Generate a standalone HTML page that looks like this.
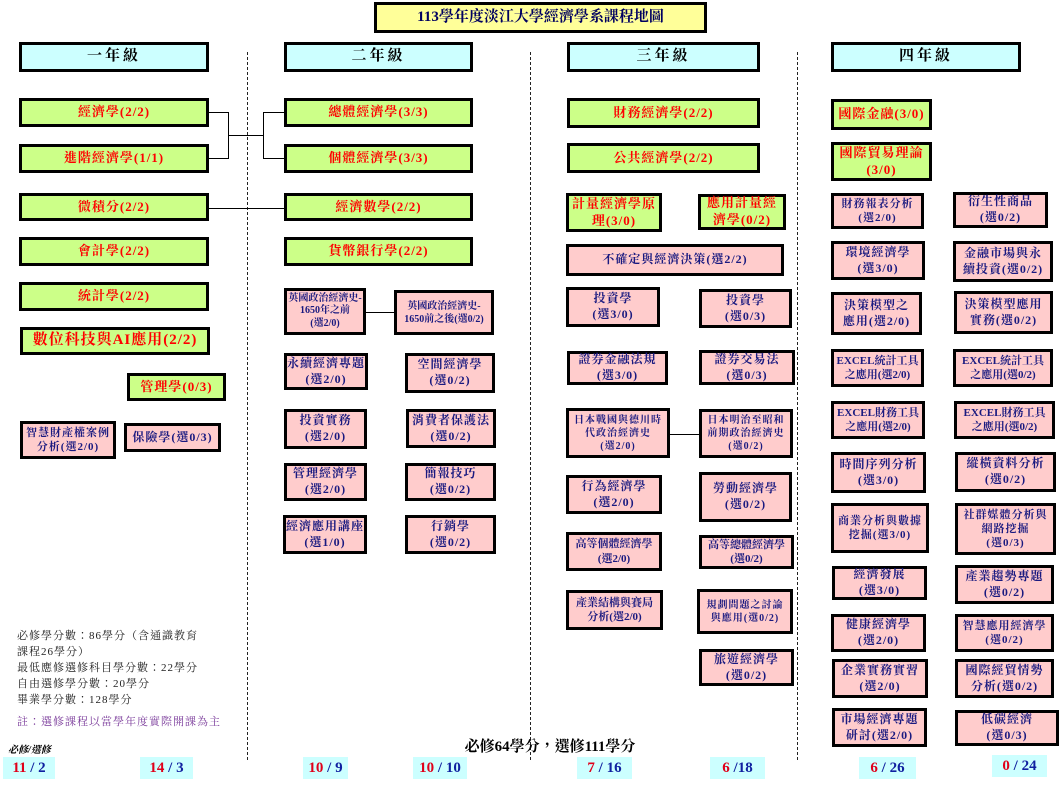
<!DOCTYPE html>
<html><head><meta charset="utf-8">
<style>
body{margin:0;width:1061px;height:786px;background:#fff;position:relative;overflow:hidden;font-family:"Liberation Serif","Noto Serif CJK TC","Noto Serif CJK SC",serif;}
.b{position:absolute;box-sizing:border-box;border:3px solid #000;display:flex;align-items:center;justify-content:center;text-align:center;font-weight:bold;line-height:1.3;letter-spacing:1px;}
.g{background:#ccff88;color:#ff0000;font-size:13px;}
.p{background:#ffcccc;color:#1a1a80;font-size:12px;}
.h{background:#ccffff;color:#000;font-size:15px;letter-spacing:3px;}
.d{position:absolute;top:52px;height:708px;border-left:1.5px dashed #222;width:0;}
.l{position:absolute;background:#000;}
.c{position:absolute;background:#ccffff;font-weight:bold;font-size:15px;height:22px;line-height:22px;text-align:center;}
.r{color:#e0001a}.n{color:#1020a0}
</style></head><body>
<div class="b" style="left:374px;top:2px;width:333px;height:31px;background:#ffff99;font-size:15px;color:#000060;letter-spacing:0">113學年度淡江大學經濟學系課程地圖</div>
<div class="b h" style="left:19px;top:42px;width:190px;height:30px">一年級</div>
<div class="b h" style="left:284px;top:42px;width:189px;height:30px">二年級</div>
<div class="b h" style="left:567px;top:42px;width:193px;height:30px">三年級</div>
<div class="b h" style="left:831px;top:42px;width:190px;height:30px">四年級</div>
<div class="d" style="left:247px"></div><div class="d" style="left:530px"></div><div class="d" style="left:797px"></div>

<div class="l" style="left:209px;top:112px;width:19px;height:1px"></div>
<div class="l" style="left:209px;top:158px;width:19px;height:1px"></div>
<div class="l" style="left:228px;top:112px;width:1px;height:47px"></div>
<div class="l" style="left:228px;top:135px;width:35px;height:1px"></div>
<div class="l" style="left:263px;top:112px;width:1px;height:47px"></div>
<div class="l" style="left:263px;top:112px;width:21px;height:1px"></div>
<div class="l" style="left:263px;top:158px;width:21px;height:1px"></div>
<div class="l" style="left:209px;top:208px;width:75px;height:1px"></div>
<div class="l" style="left:366px;top:312px;width:28px;height:1px"></div>
<div class="l" style="left:670px;top:434px;width:29px;height:1px"></div>

<div class="b g" style="left:19px;top:98px;width:190px;height:29px">經濟學(2/2)</div>
<div class="b g" style="left:19px;top:144px;width:190px;height:29px">進階經濟學(1/1)</div>
<div class="b g" style="left:19px;top:193px;width:190px;height:28px">微積分(2/2)</div>
<div class="b g" style="left:19px;top:237px;width:190px;height:29px">會計學(2/2)</div>
<div class="b g" style="left:19px;top:282px;width:190px;height:29px">統計學(2/2)</div>
<div class="b g" style="left:20px;top:327px;width:190px;height:28px;font-size:15px">數位科技與AI應用(2/2)</div>
<div class="b g" style="left:127px;top:373px;width:99px;height:28px">管理學(0/3)</div>
<div class="b p" style="left:20px;top:421px;width:96px;height:38px;font-size:11px">智慧財產權案例<br>分析(選2/0)</div>
<div class="b p" style="left:124px;top:423px;width:97px;height:29px">保險學(選0/3)</div>

<div class="b g" style="left:284px;top:98px;width:189px;height:29px">總體經濟學(3/3)</div>
<div class="b g" style="left:284px;top:144px;width:189px;height:29px">個體經濟學(3/3)</div>
<div class="b g" style="left:284px;top:193px;width:189px;height:28px">經濟數學(2/2)</div>
<div class="b g" style="left:284px;top:237px;width:189px;height:29px">貨幣銀行學(2/2)</div>
<div class="b p" style="left:284px;top:288px;width:82px;height:47px;font-size:10px;line-height:1.25;letter-spacing:0">英國政治經濟史-<br>1650年之前<br>(選2/0)</div>
<div class="b p" style="left:394px;top:290px;width:100px;height:45px;font-size:10px;letter-spacing:0">英國政治經濟史-<br>1650前之後(選0/2)</div>
<div class="b p" style="left:284px;top:353px;width:84px;height:37px">永續經濟專題<br>(選2/0)</div>
<div class="b p" style="left:405px;top:353px;width:90px;height:40px">空間經濟學<br>(選0/2)</div>
<div class="b p" style="left:284px;top:409px;width:83px;height:40px">投資實務<br>(選2/0)</div>
<div class="b p" style="left:406px;top:409px;width:90px;height:39px">消費者保護法<br>(選0/2)</div>
<div class="b p" style="left:284px;top:463px;width:83px;height:38px">管理經濟學<br>(選2/0)</div>
<div class="b p" style="left:405px;top:463px;width:91px;height:38px">簡報技巧<br>(選0/2)</div>
<div class="b p" style="left:283px;top:515px;width:84px;height:39px">經濟應用講座<br>(選1/0)</div>
<div class="b p" style="left:405px;top:515px;width:91px;height:39px">行銷學<br>(選0/2)</div>

<div class="b g" style="left:567px;top:98px;width:193px;height:30px">財務經濟學(2/2)</div>
<div class="b g" style="left:567px;top:143px;width:193px;height:30px">公共經濟學(2/2)</div>
<div class="b g" style="left:566px;top:193px;width:96px;height:39px">計量經濟學原<br>理(3/0)</div>
<div class="b g" style="left:698px;top:194px;width:88px;height:36px">應用計量經<br>濟學(0/2)</div>
<div class="b p" style="left:566px;top:244px;width:218px;height:32px">不確定與經濟決策(選2/2)</div>
<div class="b p" style="left:566px;top:287px;width:94px;height:40px">投資學<br>(選3/0)</div>
<div class="b p" style="left:699px;top:289px;width:93px;height:39px">投資學<br>(選0/3)</div>
<div class="b p" style="left:567px;top:351px;width:101px;height:34px">證券金融法規<br>(選3/0)</div>
<div class="b p" style="left:699px;top:350px;width:96px;height:35px">證券交易法<br>(選0/3)</div>
<div class="b p" style="left:566px;top:408px;width:104px;height:50px;font-size:10px">日本戰國與德川時<br>代政治經濟史<br>(選2/0)</div>
<div class="b p" style="left:699px;top:409px;width:94px;height:49px;font-size:10px">日本明治至昭和<br>前期政治經濟史<br>(選0/2)</div>
<div class="b p" style="left:566px;top:475px;width:96px;height:39px">行為經濟學<br>(選2/0)</div>
<div class="b p" style="left:699px;top:472px;width:93px;height:50px">勞動經濟學<br>(選0/2)</div>
<div class="b p" style="left:566px;top:532px;width:96px;height:39px;font-size:11px;letter-spacing:0">高等個體經濟學<br>(選2/0)</div>
<div class="b p" style="left:699px;top:535px;width:95px;height:34px;font-size:11px;letter-spacing:0">高等總體經濟學<br>(選0/2)</div>
<div class="b p" style="left:566px;top:590px;width:97px;height:40px;font-size:11px;letter-spacing:0">產業結構與賽局<br>分析(選2/0)</div>
<div class="b p" style="left:697px;top:589px;width:96px;height:45px;font-size:10px">規劃問題之討論<br>與應用(選0/2)</div>
<div class="b p" style="left:699px;top:649px;width:95px;height:37px">旅遊經濟學<br>(選0/2)</div>

<div class="b g" style="left:831px;top:99px;width:101px;height:31px">國際金融(3/0)</div>
<div class="b g" style="left:831px;top:142px;width:101px;height:39px">國際貿易理論<br>(3/0)</div>
<div class="b p" style="left:831px;top:193px;width:93px;height:36px;font-size:11px">財務報表分析<br>(選2/0)</div>
<div class="b p" style="left:953px;top:192px;width:95px;height:36px">衍生性商品<br>(選0/2)</div>
<div class="b p" style="left:831px;top:241px;width:94px;height:39px">環境經濟學<br>(選3/0)</div>
<div class="b p" style="left:953px;top:241px;width:100px;height:41px">金融市場與永<br>續投資(選0/2)</div>
<div class="b p" style="left:831px;top:292px;width:91px;height:43px">決策模型之<br>應用(選2/0)</div>
<div class="b p" style="left:954px;top:291px;width:99px;height:43px">決策模型應用<br>實務(選0/2)</div>
<div class="b p" style="left:831px;top:349px;width:93px;height:38px;font-size:11px;letter-spacing:0">EXCEL統計工具<br>之應用(選2/0)</div>
<div class="b p" style="left:953px;top:349px;width:100px;height:38px;font-size:11px;letter-spacing:0">EXCEL統計工具<br>之應用(選0/2)</div>
<div class="b p" style="left:831px;top:401px;width:94px;height:38px;font-size:11px;letter-spacing:0">EXCEL財務工具<br>之應用(選2/0)</div>
<div class="b p" style="left:954px;top:401px;width:101px;height:38px;font-size:11px;letter-spacing:0">EXCEL財務工具<br>之應用(選0/2)</div>
<div class="b p" style="left:831px;top:452px;width:95px;height:41px">時間序列分析<br>(選3/0)</div>
<div class="b p" style="left:955px;top:452px;width:101px;height:40px">縱橫資料分析<br>(選0/2)</div>
<div class="b p" style="left:831px;top:503px;width:98px;height:50px;font-size:11px">商業分析與數據<br>挖掘(選3/0)</div>
<div class="b p" style="left:955px;top:503px;width:101px;height:52px;font-size:11px">社群媒體分析與<br>網路挖掘<br>(選0/3)</div>
<div class="b p" style="left:832px;top:566px;width:95px;height:34px">經濟發展<br>(選3/0)</div>
<div class="b p" style="left:955px;top:565px;width:99px;height:39px">產業趨勢專題<br>(選0/2)</div>
<div class="b p" style="left:831px;top:614px;width:95px;height:38px">健康經濟學<br>(選2/0)</div>
<div class="b p" style="left:955px;top:614px;width:99px;height:38px;font-size:11px">智慧應用經濟學<br>(選0/2)</div>
<div class="b p" style="left:832px;top:659px;width:96px;height:39px">企業實務實習<br>(選2/0)</div>
<div class="b p" style="left:955px;top:659px;width:99px;height:39px">國際經貿情勢<br>分析(選0/2)</div>
<div class="b p" style="left:832px;top:708px;width:95px;height:39px">市場經濟專題<br>研討(選2/0)</div>
<div class="b p" style="left:955px;top:710px;width:104px;height:36px">低碳經濟<br>(選0/3)</div>

<div style="position:absolute;left:17px;top:628px;font-size:11px;line-height:16px;color:#222;letter-spacing:1px">必修學分數：86學分（含通識教育<br>課程26學分）<br>最低應修選修科目學分數：22學分<br>自由選修學分數：20學分<br>畢業學分數：128學分</div>
<div style="position:absolute;left:17px;top:713px;font-size:11px;color:#7a3a9a;letter-spacing:1px">註：選修課程以當學年度實際開課為主</div>
<div style="position:absolute;left:8px;top:741px;font-size:10px;font-weight:bold;font-style:italic">必修/選修</div>
<div style="position:absolute;left:440px;top:735px;width:220px;text-align:center;font-size:15px;font-weight:bold">必修64學分，選修111學分</div>

<div class="c" style="left:3px;top:757px;width:52px"><span class="r">11</span> <span class="n">/ 2</span></div>
<div class="c" style="left:140px;top:757px;width:53px"><span class="r">14</span> <span class="n">/ 3</span></div>
<div class="c" style="left:303px;top:757px;width:45px"><span class="r">10</span><span class="n"> / 9</span></div>
<div class="c" style="left:413px;top:757px;width:54px"><span class="r">10</span><span class="n"> / 10</span></div>
<div class="c" style="left:577px;top:757px;width:55px"><span class="r">7</span><span class="n"> / 16</span></div>
<div class="c" style="left:710px;top:757px;width:55px"><span class="r">6</span><span class="n"> /18</span></div>
<div class="c" style="left:859px;top:757px;width:57px"><span class="r">6</span><span class="n"> / 26</span></div>
<div class="c" style="left:992px;top:755px;width:55px"><span class="r">0</span><span class="n"> / 24</span></div>
</body></html>
